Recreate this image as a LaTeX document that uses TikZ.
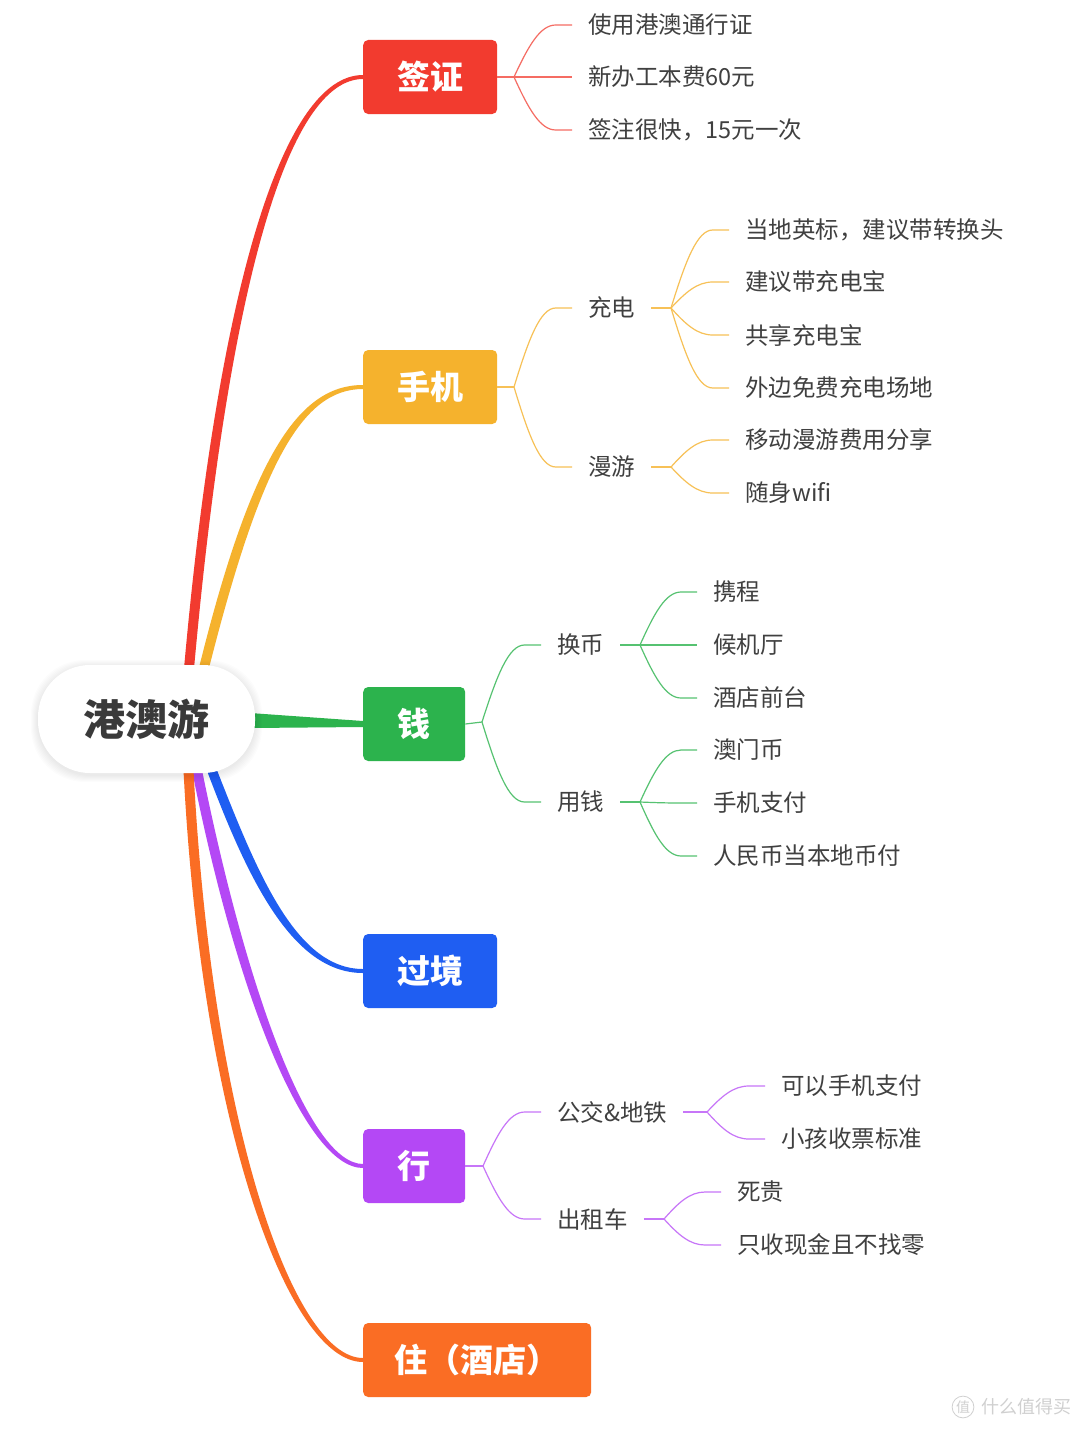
\documentclass[tikz,border=0pt]{standalone}
\usepackage{fontspec}
\setmainfont{Noto Sans CJK SC}
\usetikzlibrary{calc,backgrounds}
\definecolor{cred}{HTML}{F23B2F}
\definecolor{cyel}{HTML}{F5B22D}
\definecolor{cgrn}{HTML}{2CB34D}
\definecolor{cblu}{HTML}{1F5EF2}
\definecolor{cpur}{HTML}{B448F5}
\definecolor{cora}{HTML}{FA6D24}
\definecolor{tgray}{HTML}{404040}
\definecolor{rgray}{HTML}{3A3A3A}
\definecolor{wmgray}{HTML}{D0D0D0}
\newcommand\mmtwig[3]{\draw[#1] let \p1=(#2), \p2=(#3.west) in (#2) .. controls ({\x1+0.25*(\x2-\x1)},{\y1+0.6*(\y2-\y1)}) and ({\x1+0.45*(\x2-\x1)},\y2) .. ({\x1+0.72*(\x2-\x1)},\y2) -- (#3.west);}
\begin{document}
\begin{tikzpicture}[x=1pt,y=-1pt,
 mainbox/.style={rounded corners=5pt,minimum height=74pt,text=white,font=\fontsize{33}{36}\selectfont\bfseries,anchor=west,inner sep=0pt},
 leaf/.style={anchor=west,inner xsep=16pt,inner ysep=2pt,text=tgray,font=\fontsize{23.5}{26}\selectfont},
 twigline/.style={line width=1.2pt}]
\useasboundingbox (0,0) rectangle (1080,1429);

% main topic boxes
\node[mainbox,fill=cred,minimum width=134pt] (visa) at (363,77) {签证};
\node[mainbox,fill=cyel,minimum width=134pt] (phone) at (363,387) {手机};
\node[mainbox,fill=cgrn,minimum width=102pt] (money) at (363,724) {钱};
\node[mainbox,fill=cblu,minimum width=134pt] (border) at (363,971) {过境};
\node[mainbox,fill=cpur,minimum width=102pt] (go) at (363,1166) {行};
\node[mainbox,fill=cora,minimum width=228pt] (stay) at (363,1360) {住（酒店）};

% start points on the root
\coordinate (sr) at (188,680);
\coordinate (sy) at (201,680);
\coordinate (sb) at (208,760);
\coordinate (sp) at (195,760);
\coordinate (so) at (188,760);

\begin{pgfonlayer}{background}
\fill[white] (0,0) rectangle (1080,1429);
% tapered main branches
\fill[cred] ([xshift=-5pt]sr) .. controls (217,288) and (283,75) .. ([yshift=2pt]visa.west)
  -- ([yshift=-2pt]visa.west) .. controls (287,79) and (227,292) .. ([xshift=5pt]sr) -- cycle;
\fill[cyel] ([xshift=-5pt]sy) .. controls (250,457) and (298,385) .. ([yshift=2pt]phone.west)
  -- ([yshift=-2pt]phone.west) .. controls (302,389) and (260,463) .. ([xshift=5pt]sy) -- cycle;
\fill[cgrn] (250,713) -- ([yshift=3pt]money.west) -- ([yshift=-3pt]money.west) -- (250,728) -- cycle;
\fill[cblu] ([xshift=-5pt]sb) .. controls (245,873) and (290,973) .. ([yshift=-2pt]border.west)
  -- ([yshift=2pt]border.west) .. controls (294,969) and (255,867) .. ([xshift=5pt]sb) -- cycle;
\fill[cpur] ([xshift=-5pt]sp) .. controls (235,993) and (305,1168) .. ([yshift=-2pt]go.west)
  -- ([yshift=2pt]go.west) .. controls (309,1164) and (245,987) .. ([xshift=5pt]sp) -- cycle;
\fill[cora] ([xshift=-5pt]so) .. controls (200,1123) and (288,1362) .. ([yshift=-2pt]stay.west)
  -- ([yshift=2pt]stay.west) .. controls (292,1358) and (210,1117) .. ([xshift=5pt]so) -- cycle;
\end{pgfonlayer}

% root shadow and root
\foreach \i in {1,...,7}{
  \fill[black,opacity=0.010,rounded corners=54pt] (38-\i,665-\i+2) rectangle (255+\i,773+\i+2);
}
\node[fill=white,rounded corners=52pt,minimum width=217pt,minimum height=108pt,inner sep=0pt,
  text=rgray,font=\fontsize{42}{46}\selectfont\bfseries] (root) at (146.5,719) {港澳游};

\colorlet{lred}{cred!75!white}
\colorlet{lyel}{cyel!80!white}
\colorlet{lgrn}{cgrn!80!white}
\colorlet{lpur}{cpur!75!white}

% ---- 签证
\node[leaf] (v1) at (572,25) {使用港澳通行证};
\node[leaf] (v2) at (572,77) {新办工本费60元};
\node[leaf] (v3) at (572,130) {签注很快，15元一次};
\coordinate (fv) at (514,77);
\draw[twigline,lred] (visa.east) -- (fv);
\mmtwig{twigline,lred}{fv}{v1}
\mmtwig{twigline,lred}{fv}{v2}
\mmtwig{twigline,lred}{fv}{v3}

% ---- 手机
\node[leaf] (p1) at (572,308) {充电};
\node[leaf] (p2) at (572,467) {漫游};
\coordinate (fp) at (514,387);
\draw[twigline,lyel] (phone.east) -- (fp);
\mmtwig{twigline,lyel}{fp}{p1}
\mmtwig{twigline,lyel}{fp}{p2}
\node[leaf] (p11) at (729,230) {当地英标，建议带转换头};
\node[leaf] (p12) at (729,282) {建议带充电宝};
\node[leaf] (p13) at (729,335) {共享充电宝};
\node[leaf] (p14) at (729,388) {外边免费充电场地};
\coordinate (fp1) at (671,308);
\draw[twigline,lyel] (p1.east) -- (fp1);
\mmtwig{twigline,lyel}{fp1}{p11}
\mmtwig{twigline,lyel}{fp1}{p12}
\mmtwig{twigline,lyel}{fp1}{p13}
\mmtwig{twigline,lyel}{fp1}{p14}
\node[leaf] (p21) at (729,440) {移动漫游费用分享};
\node[leaf] (p22) at (729,493) {随身wifi};
\coordinate (fp2) at (671,467);
\draw[twigline,lyel] (p2.east) -- (fp2);
\mmtwig{twigline,lyel}{fp2}{p21}
\mmtwig{twigline,lyel}{fp2}{p22}

% ---- 钱
\node[leaf] (m1) at (541,645) {换币};
\node[leaf] (m2) at (541,802) {用钱};
\coordinate (fm) at (482,722);
\draw[twigline,lgrn] (money.east) -- (fm);
\mmtwig{twigline,lgrn}{fm}{m1}
\mmtwig{twigline,lgrn}{fm}{m2}
\node[leaf] (m11) at (697,592) {携程};
\node[leaf] (m12) at (697,645) {候机厅};
\node[leaf] (m13) at (697,698) {酒店前台};
\coordinate (fm1) at (640,645);
\draw[twigline,lgrn] (m1.east) -- (fm1);
\mmtwig{twigline,lgrn}{fm1}{m11}
\mmtwig{twigline,lgrn}{fm1}{m12}
\mmtwig{twigline,lgrn}{fm1}{m13}
\node[leaf] (m21) at (697,750) {澳门币};
\node[leaf] (m22) at (697,803) {手机支付};
\node[leaf] (m23) at (697,856) {人民币当本地币付};
\coordinate (fm2) at (640,802);
\draw[twigline,lgrn] (m2.east) -- (fm2);
\mmtwig{twigline,lgrn}{fm2}{m21}
\mmtwig{twigline,lgrn}{fm2}{m22}
\mmtwig{twigline,lgrn}{fm2}{m23}

% ---- 行
\node[leaf] (g1) at (541,1112) {公交\&地铁};
\node[leaf] (g2) at (541,1219) {出租车};
\coordinate (fg) at (483,1166);
\draw[twigline,lpur] (go.east) -- (fg);
\mmtwig{twigline,lpur}{fg}{g1}
\mmtwig{twigline,lpur}{fg}{g2}
\node[leaf] (g11) at (765,1086) {可以手机支付};
\node[leaf] (g12) at (765,1139) {小孩收票标准};
\coordinate (fg1) at (707,1112);
\draw[twigline,lpur] (g1.east) -- (fg1);
\mmtwig{twigline,lpur}{fg1}{g11}
\mmtwig{twigline,lpur}{fg1}{g12}
\node[leaf] (g21) at (721,1192) {死贵};
\node[leaf] (g22) at (721,1245) {只收现金且不找零};
\coordinate (fg2) at (664,1219);
\draw[twigline,lpur] (g2.east) -- (fg2);
\mmtwig{twigline,lpur}{fg2}{g21}
\mmtwig{twigline,lpur}{fg2}{g22}

% watermark
\node[circle,draw=wmgray,line width=0.8pt,inner sep=1pt,text=wmgray,font=\fontsize{14}{16}\selectfont] (wmc) at (963,1407) {值};
\node[anchor=west,inner sep=0pt,text=wmgray,font=\fontsize{18}{20}\selectfont] (wmt) at (981,1407) {什么值得买};
\end{tikzpicture}
\end{document}
